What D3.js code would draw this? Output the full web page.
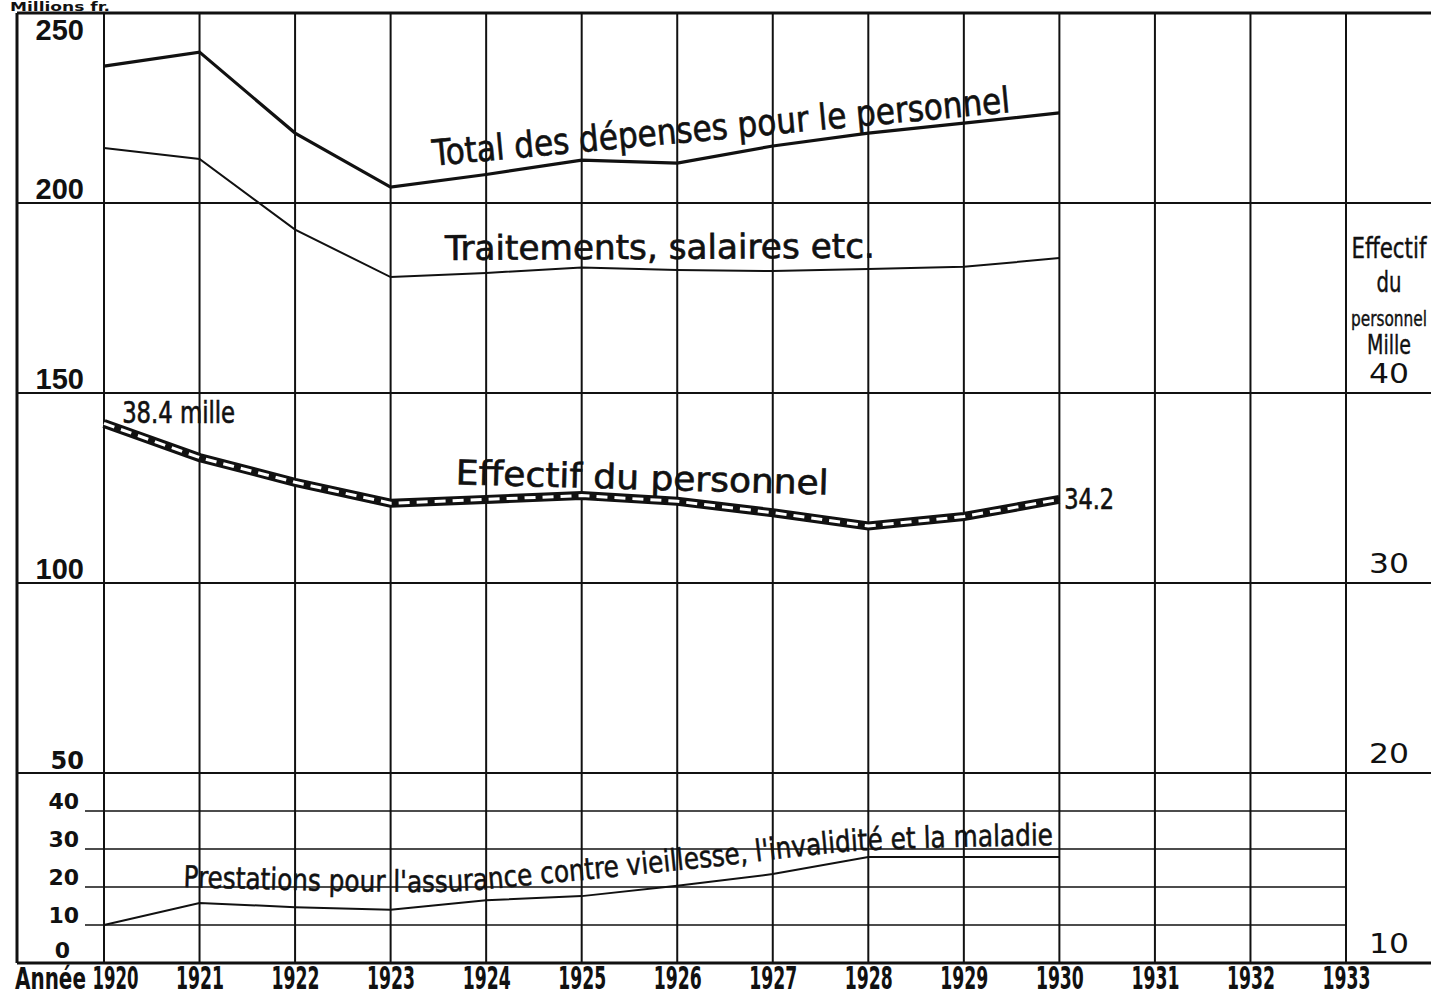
<!DOCTYPE html>
<html>
<head>
<meta charset="utf-8">
<script src="https://cdn.jsdelivr.net/npm/d3@7"></script>
<style>
  body { margin: 0; background: #fff; }
  svg { display: block; }
  .grid line { stroke: #111; }
  text { fill: #111; }
</style>
</head>
<body>
<div id="chart"></div>
<script>
// years on the x axis (grid runs to 1933, data stops at 1930)
var gridYears = [1920, 1921, 1922, 1923, 1924, 1925, 1926, 1927, 1928, 1929, 1930, 1931, 1932, 1933];
var years = [1920, 1921, 1922, 1923, 1924, 1925, 1926, 1927, 1928, 1929, 1930];

// millions fr.
var totalDepenses = [236, 239.7, 218.4, 204.2, 207.5, 211.3, 210.5, 215, 218.4, 221, 223.7];
var traitements   = [214.5, 211.6, 193, 180.5, 181.6, 183, 182.4, 182.1, 182.6, 183.2, 185.5];
var prestations   = [10, 15.8, 14.7, 14, 16.5, 17.6, 20.3, 23.4, 27.9, 27.9, 27.9];

// effectif du personnel, mille (right scale)
var effectif = [38.4, 36.6, 35.3, 34.2, 34.4, 34.6, 34.3, 33.7, 33.0, 33.5, 34.4];

var majorTicks = [250, 200, 150, 100, 50];
var minorTicks = [40, 30, 20, 10, 0];
var rightTicks = [40, 30, 20, 10];
var rightTitle = ["Effectif", "du", "personnel", "Mille"];

// baseline of the curved "Prestations" label, in (year, millions)
var prestLabelPath = [[1920.83, 20], [1923.41, 18.7], [1924.77, 21.3], [1926.24, 25], [1928.02, 29.7], [1930.01, 31]];

var W = 1431, H = 997;
var frameL = 17, frameT = 13, frameB = 963;
var condensed = "DejaVu Sans Condensed";

var x = d3.scaleLinear().domain([1920, 1933]).range([104, 1346]);
var y = d3.scaleLinear().domain([0, 250]).range([frameB, frameT]);
var yR = d3.scaleLinear().domain([10, 60]).range([frameB, frameT]);

var svg = d3.select("#chart").append("svg")
    .attr("width", W)
    .attr("height", H);

// squeeze a text horizontally so it spans w pixels from (px, py)
function fitText(sel, px, py, w, angle) {
    sel.attr("x", 0).attr("y", 0).attr("text-anchor", "start");
    var n = sel.node().getComputedTextLength();
    sel.attr("transform", "translate(" + px + "," + py + ") rotate(" + (angle || 0) + ") scale(" + (w / n) + ",1)");
    return sel;
}

var grid = svg.append("g").attr("class", "grid");

// vertical year lines
grid.selectAll(".v").data(gridYears).enter()
    .append("line")
    .attr("x1", function(d) { return x(d); })
    .attr("x2", function(d) { return x(d); })
    .attr("y1", frameT).attr("y2", frameB)
    .attr("stroke-width", 2);

// major horizontals run to the right edge
grid.selectAll(".h").data(majorTicks.concat([0])).enter()
    .append("line")
    .attr("x1", frameL).attr("x2", W)
    .attr("y1", function(d) { return y(d); })
    .attr("y2", function(d) { return y(d); })
    .attr("stroke-width", function(d) { return (d === 250 || d === 0) ? 3 : 2; });

// minor horizontals in the lower band
grid.selectAll(".m").data(minorTicks.filter(function(d) { return d > 0; })).enter()
    .append("line")
    .attr("x1", 85).attr("x2", x(1933))
    .attr("y1", function(d) { return y(d); })
    .attr("y2", function(d) { return y(d); })
    .attr("stroke-width", 1.6);

grid.append("line")
    .attr("x1", frameL).attr("x2", frameL)
    .attr("y1", frameT).attr("y2", frameB)
    .attr("stroke-width", 3);

// left labels
svg.selectAll(".lmaj").data(majorTicks).enter()
    .append("text")
    .attr("x", 84)
    .attr("y", function(d) { return d === 250 ? y(d) + 27 : y(d) - 4; })
    .attr("text-anchor", "end")
    .style("font-family", function(d) { return d === 50 ? "DejaVu Sans" : "Liberation Sans"; })
    .style("font-weight", "bold")
    .style("font-size", function(d) { return d === 50 ? "24px" : "29px"; })
    .text(function(d) { return d; });

svg.selectAll(".lmin").data(minorTicks).enter()
    .append("text")
    .attr("x", function(d) { return d === 0 ? 70 : 79; })
    .attr("y", function(d) { return d === 0 ? y(d) - 5 : y(d) - 2; })
    .attr("text-anchor", "end")
    .style("font-family", "DejaVu Sans")
    .style("font-weight", "bold")
    .style("font-size", "22px")
    .text(function(d) { return d; });

// unit title squeezed into the strip above the frame
fitText(svg.append("text")
    .style("font-family", condensed)
    .style("font-weight", "bold")
    .style("font-size", "13px")
    .text("Millions fr."), 10, 11, 100);

// right scale
svg.selectAll(".r").data(rightTicks).enter()
    .append("text")
    .style("font-family", "DejaVu Sans")
    .style("font-size", "26px")
    .text(function(d) { return d; })
    .each(function(d) { fitText(d3.select(this), 1369, yR(d) - 10, 40); });

var titleY = [258, 292, 326, 354];
var titleLen = [75, 25, 76, 44];
var titleSize = [29, 29, 22, 27];
svg.selectAll(".rt").data(rightTitle).enter()
    .append("text")
    .style("font-family", condensed)
    .style("font-size", function(d, i) { return titleSize[i] + "px"; })
    .style("stroke", "#111")
    .style("stroke-width", 0.4)
    .text(function(d) { return d; })
    .each(function(d, i) { fitText(d3.select(this), 1389 - titleLen[i] / 2, titleY[i], titleLen[i]); });

// x axis
var xAxis = d3.axisBottom(x).tickValues(gridYears).tickSize(0).tickFormat(d3.format("d"));
var ax = svg.append("g")
    .attr("transform", "translate(0," + frameB + ")")
    .call(xAxis);
ax.select(".domain").remove();
ax.selectAll("text")
    .attr("dy", 0)
    .style("font-family", condensed)
    .style("font-weight", "bold")
    .style("font-size", "32px")
    .style("fill", "#111")
    .each(function(d) {
        var first = d === 1920;
        fitText(d3.select(this), first ? -12 : -24, 26, first ? 46 : 48);
    });

fitText(svg.append("text")
    .style("font-family", condensed)
    .style("font-weight", "bold")
    .style("font-size", "30px")
    .text("Année"), 15, frameB + 26, 71);

// series
var line = d3.line()
    .x(function(d) { return x(d[0]); })
    .y(function(d) { return y(d[1]); });
var lineR = d3.line()
    .x(function(d) { return x(d[0]); })
    .y(function(d) { return yR(d[1]); });

function pairs(vals) {
    return years.map(function(yr, i) { return [yr, vals[i]]; });
}

svg.append("path").datum(pairs(totalDepenses))
    .attr("d", line).attr("fill", "none")
    .attr("stroke", "#111").attr("stroke-width", 3.2);

svg.append("path").datum(pairs(traitements))
    .attr("d", line).attr("fill", "none")
    .attr("stroke", "#111").attr("stroke-width", 2);

svg.append("path").datum(pairs(prestations))
    .attr("d", line).attr("fill", "none")
    .attr("stroke", "#111").attr("stroke-width", 2);

svg.append("path").datum(pairs(effectif))
    .attr("d", lineR).attr("fill", "none")
    .attr("stroke", "#111").attr("stroke-width", 9);
svg.append("path").datum(pairs(effectif))
    .attr("d", lineR).attr("fill", "none")
    .attr("stroke", "#fff").attr("stroke-width", 3)
    .attr("stroke-dasharray", "11,7");

// line labels
function label(txt, px, py, len, angle, size) {
    var t = svg.append("text")
        .style("font-family", condensed)
        .style("font-size", size + "px")
        .style("stroke", "#111")
        .style("stroke-width", 0.6)
        .text(txt);
    fitText(t, px, py, len, angle);
}

label("Total des dépenses pour le personnel", x(1923.45), y(209.8), 580, -5.3, 36);
label("Traitements, salaires etc.", x(1923.57), y(185), 430, -0.3, 34);
label("Effectif du personnel", x(1923.68), yR(35.2), 373, 1.6, 34);
label("38.4 mille", x(1920.19), yR(38.4), 113, 0, 30);
label("34.2", x(1930.05), yR(34.4) + 10, 50, 0, 28);

svg.append("path")
    .attr("id", "prestPath")
    .attr("d", d3.line().curve(d3.curveMonotoneX)
        .x(function(d) { return x(d[0]); })
        .y(function(d) { return y(d[1]); })(prestLabelPath))
    .attr("fill", "none");

svg.append("text")
    .style("font-family", condensed)
    .style("font-size", "30px")
    .style("stroke", "#111")
    .style("stroke-width", 0.5)
    .append("textPath")
    .attr("href", "#prestPath")
    .attr("textLength", 872)
    .attr("lengthAdjust", "spacingAndGlyphs")
    .text("Prestations pour l'assurance contre vieillesse, l'invalidité et la maladie");
</script>
</body>
</html>
